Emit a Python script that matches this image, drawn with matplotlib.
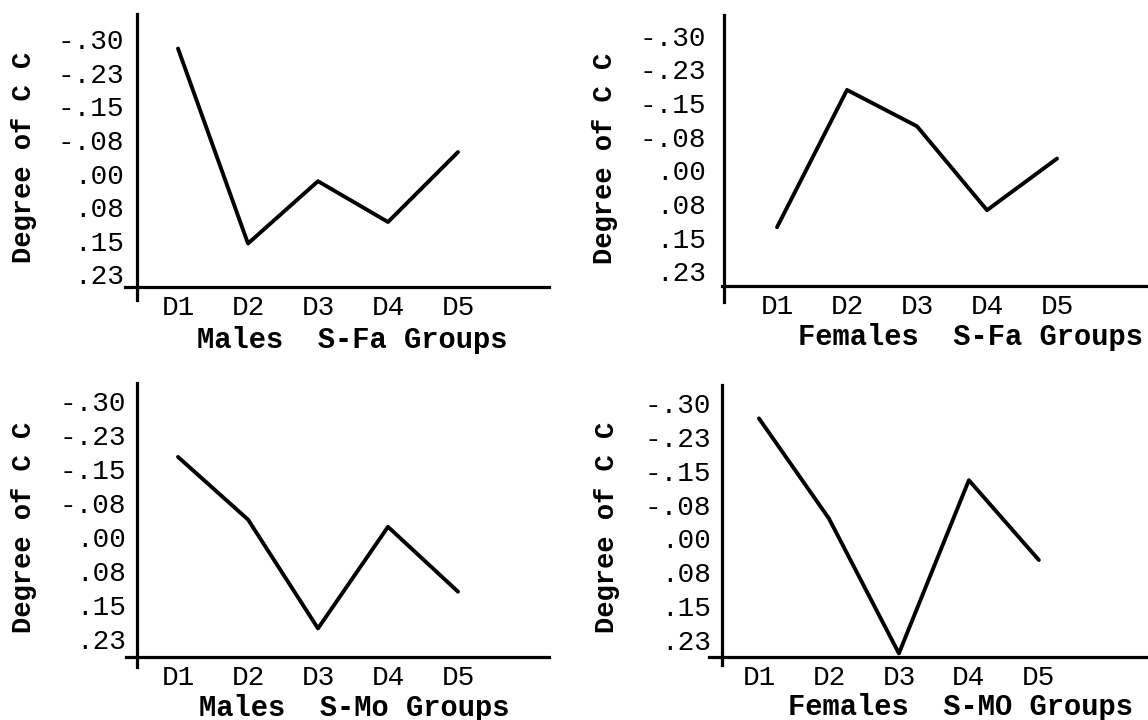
import numpy as np
import matplotlib.pyplot as plt

# values (positive = down on the page)
groups = ['D1', 'D2', 'D3', 'D4', 'D5']
males_sfa = [-0.279, 0.156, 0.017, 0.108, -0.048]
females_sfa = [0.127, -0.179, -0.098, 0.089, -0.026]
males_smo = [-0.176, -0.038, 0.202, -0.022, 0.121]
females_smo = [-0.266, -0.044, 0.255, -0.129, 0.048]

ytick_vals = [-0.30, -0.225, -0.15, -0.075, 0.0, 0.075, 0.15, 0.225]
ytick_labels = ['-.30', '-.23', '-.15', '-.08', '.00', '.08', '.15', '.23']

titles = ['Males  S-Fa Groups', 'Females  S-Fa Groups',
          'Males  S-Mo Groups', 'Females  S-MO Groups']
series = [males_sfa, females_sfa, males_smo, females_smo]

W, H = 1148, 720

# layout per panel: pixel box (l, t, r, b), xlim, y-axis x, ylim, axis tail, xlabel pos, ylabel pos, tick pad
layout = [
    ((125, 14, 549, 287), (0.243, 6.3), 0.414, (0.253, -0.356), 0.283, (0.536, -0.195), (-0.238, 0.473), 9),
    ((722, 15, 1148, 286), (0.214, 6.3), 0.243, (0.258, -0.346), 0.294, (0.584, -0.190), (-0.275, 0.472), 13),
    ((126, 383, 549, 657), (0.257, 6.3), 0.414, (0.265, -0.339), 0.287, (0.539, -0.186), (-0.241, 0.474), 8),
    ((709, 385, 1148, 657), (0.286, 6.56), 0.47, (0.263, -0.340), 0.280, (0.572, -0.184), (-0.232, 0.478), 8),
]

mono = 'Liberation Mono'

fig = plt.figure(figsize=(W / 100, H / 100), dpi=100)
x = np.arange(1, len(groups) + 1)

for vals, title, lay in zip(series, titles, layout):
    (l, t, r, b), xl, yax, yl, tail, xlab, ylab, pad = lay
    ax = fig.add_axes([l / W, 1 - b / H, (r - l) / W, (b - t) / H])
    ax.plot(x, vals, color='black', lw=2.8, solid_capstyle='round', solid_joinstyle='round')
    ax.set_xlim(*xl)
    ax.set_ylim(*yl)

    for s in ['top', 'right']:
        ax.spines[s].set_visible(False)
    ax.spines['bottom'].set_linewidth(2.3)
    ax.spines['left'].set_linewidth(2.3)
    ax.spines['left'].set_position(('data', yax))
    ax.spines['left'].set_bounds(tail, yl[1])

    ax.set_xticks(x)
    ax.set_xticklabels(groups, fontfamily=mono, fontsize=20)
    ax.set_yticks(ytick_vals)
    ax.set_yticklabels(ytick_labels, fontfamily=mono, fontsize=20)
    ax.tick_params(axis='both', length=0, colors='black')
    ax.tick_params(axis='x', pad=6)
    ax.tick_params(axis='y', pad=pad)

    ax.set_xlabel(title, fontfamily=mono, fontsize=20.7, fontweight='bold', va='center')
    ax.xaxis.set_label_coords(*xlab)
    ax.set_ylabel('Degree of C C', fontfamily=mono, fontsize=19.5, fontweight='bold', va='center')
    ax.yaxis.set_label_coords(*ylab)

fig.savefig('out.png', dpi=100, facecolor='white')
